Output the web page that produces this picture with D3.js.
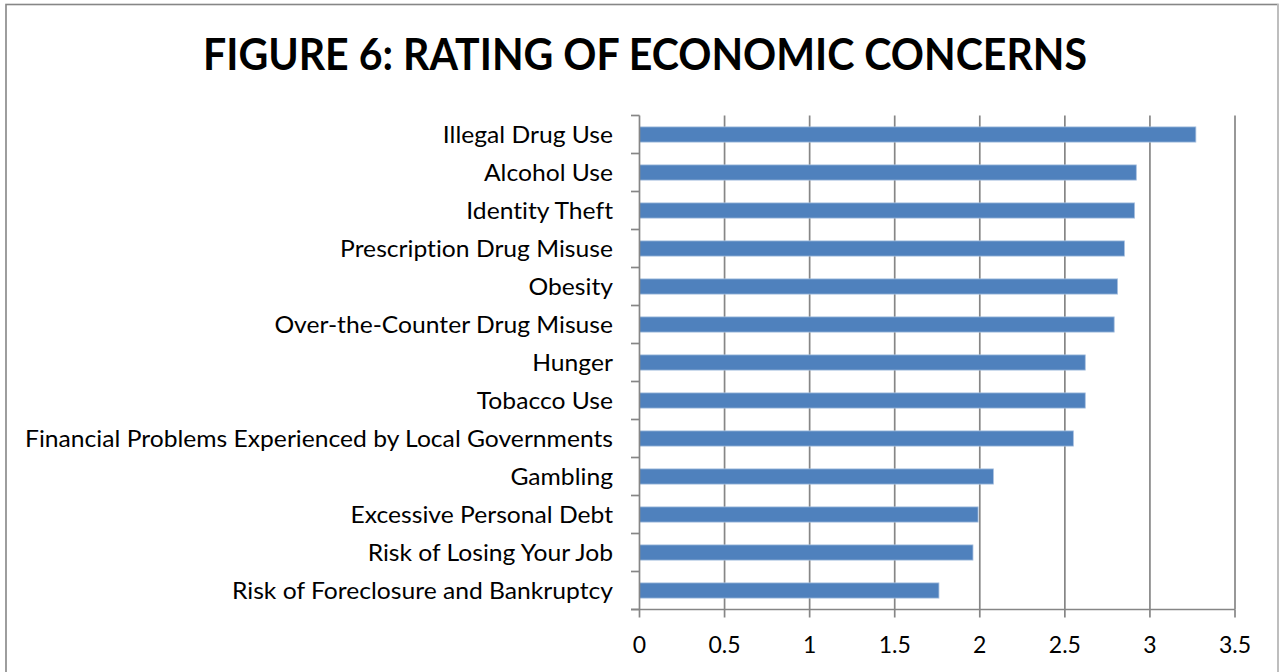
<!DOCTYPE html>
<html>
<head>
<meta charset="utf-8">
<script src="https://cdn.jsdelivr.net/npm/d3@7"></script>
<style>
  html, body { margin: 0; padding: 0; background: #fff; }
  svg { display: block; }
  svg text { font-variant-ligatures: none; font-feature-settings: "liga" 0, "clig" 0; }
</style>
</head>
<body>
<svg id="chart" width="1281" height="672"></svg>
<script>
// Economic concerns, listed top to bottom, with their average ratings
const categories = [
  "Illegal Drug Use",
  "Alcohol Use",
  "Identity Theft",
  "Prescription Drug Misuse",
  "Obesity",
  "Over-the-Counter Drug Misuse",
  "Hunger",
  "Tobacco Use",
  "Financial Problems Experienced by Local Governments",
  "Gambling",
  "Excessive Personal Debt",
  "Risk of Losing Your Job",
  "Risk of Foreclosure and Bankruptcy"
];
const ratings = [3.27, 2.92, 2.91, 2.85, 2.81, 2.79, 2.62, 2.62, 2.55, 2.08, 1.99, 1.96, 1.76];
const xTicks = [0, 0.5, 1, 1.5, 2, 2.5, 3, 3.5];
const xTickLabels = ["0", "0.5", "1", "1.5", "2", "2.5", "3", "3.5"];
const title = "FIGURE 6: RATING OF ECONOMIC CONCERNS";

const svg = d3.select("#chart");
const font = "Lato, 'Open Sans', sans-serif";
const gridColor = "#868686";
const barColor = "#4f81bd";

// Outer frame
svg.append("rect")
  .attr("x", 6).attr("y", 4.5)
  .attr("width", 1272).attr("height", 720)
  .attr("fill", "#fff")
  .attr("stroke", gridColor).attr("stroke-width", 1.6);
svg.append("line")
  .attr("x1", 1278).attr("x2", 1278).attr("y1", 4).attr("y2", 672)
  .attr("stroke", "#c8c8c8").attr("stroke-width", 1.5);

// Plot area
const plotLeft = 639.5, plotRight = 1235, plotTop = 115.5, plotBottom = 609.5;

const x = d3.scaleLinear().domain([0, 3.5]).range([plotLeft, plotRight]);
const y = d3.scaleBand().domain(categories).range([plotTop, plotBottom])
  .paddingInner(0.6).paddingOuter(0.3);

// Title
const titleText = svg.append("text")
  .attr("x", 645).attr("y", 70)
  .attr("text-anchor", "middle")
  .attr("font-family", font).attr("font-weight", "bold")
  .attr("font-size", 43).attr("fill", "#000")
  .text(title);
titleText.attr("textLength", 884).attr("lengthAdjust", "spacingAndGlyphs");

// Vertical gridlines
svg.append("g").selectAll("line")
  .data(xTicks.filter(d => d > 0))
  .join("line")
  .attr("x1", d => x(d)).attr("x2", d => x(d))
  .attr("y1", plotTop).attr("y2", plotBottom)
  .attr("stroke", gridColor).attr("stroke-width", 1.7);

// Bars
svg.append("g").selectAll("rect")
  .data(categories)
  .join("rect")
  .attr("x", x(0))
  .attr("y", d => y(d))
  .attr("width", (d, i) => x(ratings[i]) - x(0))
  .attr("height", y.bandwidth())
  .attr("fill", barColor)
  .attr("stroke", "#a9c1e0").attr("stroke-width", 0.8);

// Category axis: line plus tick marks on band boundaries
const step = y.step();
const boundaries = d3.range(categories.length + 1).map(i => plotTop + i * step);
const yAxis = svg.append("g");
yAxis.append("line")
  .attr("x1", plotLeft).attr("x2", plotLeft).attr("y1", plotTop).attr("y2", plotBottom)
  .attr("stroke", gridColor).attr("stroke-width", 1.7);
yAxis.selectAll("line.tick")
  .data(boundaries)
  .join("line").attr("class", "tick")
  .attr("x1", plotLeft - 8.5).attr("x2", plotLeft)
  .attr("y1", d => d).attr("y2", d => d)
  .attr("stroke", gridColor).attr("stroke-width", 1.7);

// Category labels, condensed to the width of the narrow chart face
const labels = yAxis.selectAll("text")
  .data(categories)
  .join("text")
  .attr("x", 613)
  .attr("y", d => y(d) + y.bandwidth() / 2 + 8.5)
  .attr("text-anchor", "end")
  .attr("font-family", font).attr("font-size", 23.5).attr("fill", "#000")
  .text(d => d);
const longest = labels.nodes().reduce((m, n) => Math.max(m, n.getComputedTextLength()), 0);
const squeeze = 588 / longest;
labels.each(function () {
  const w = this.getComputedTextLength();
  d3.select(this).attr("textLength", w * squeeze).attr("lengthAdjust", "spacingAndGlyphs");
});

// Value axis along the bottom
const xAxis = svg.append("g");
xAxis.append("line")
  .attr("x1", plotLeft - 8.5).attr("x2", plotRight).attr("y1", plotBottom).attr("y2", plotBottom)
  .attr("stroke", gridColor).attr("stroke-width", 1.7);
xAxis.selectAll("line.tick")
  .data(xTicks)
  .join("line").attr("class", "tick")
  .attr("x1", d => x(d)).attr("x2", d => x(d))
  .attr("y1", plotBottom).attr("y2", plotBottom + 8)
  .attr("stroke", gridColor).attr("stroke-width", 1.7);
xAxis.selectAll("text")
  .data(xTicks)
  .join("text")
  .attr("x", d => x(d)).attr("y", 653)
  .attr("text-anchor", "middle")
  .attr("font-family", font).attr("font-size", 23).attr("fill", "#000")
  .text((d, i) => xTickLabels[i]);
</script>
</body>
</html>
